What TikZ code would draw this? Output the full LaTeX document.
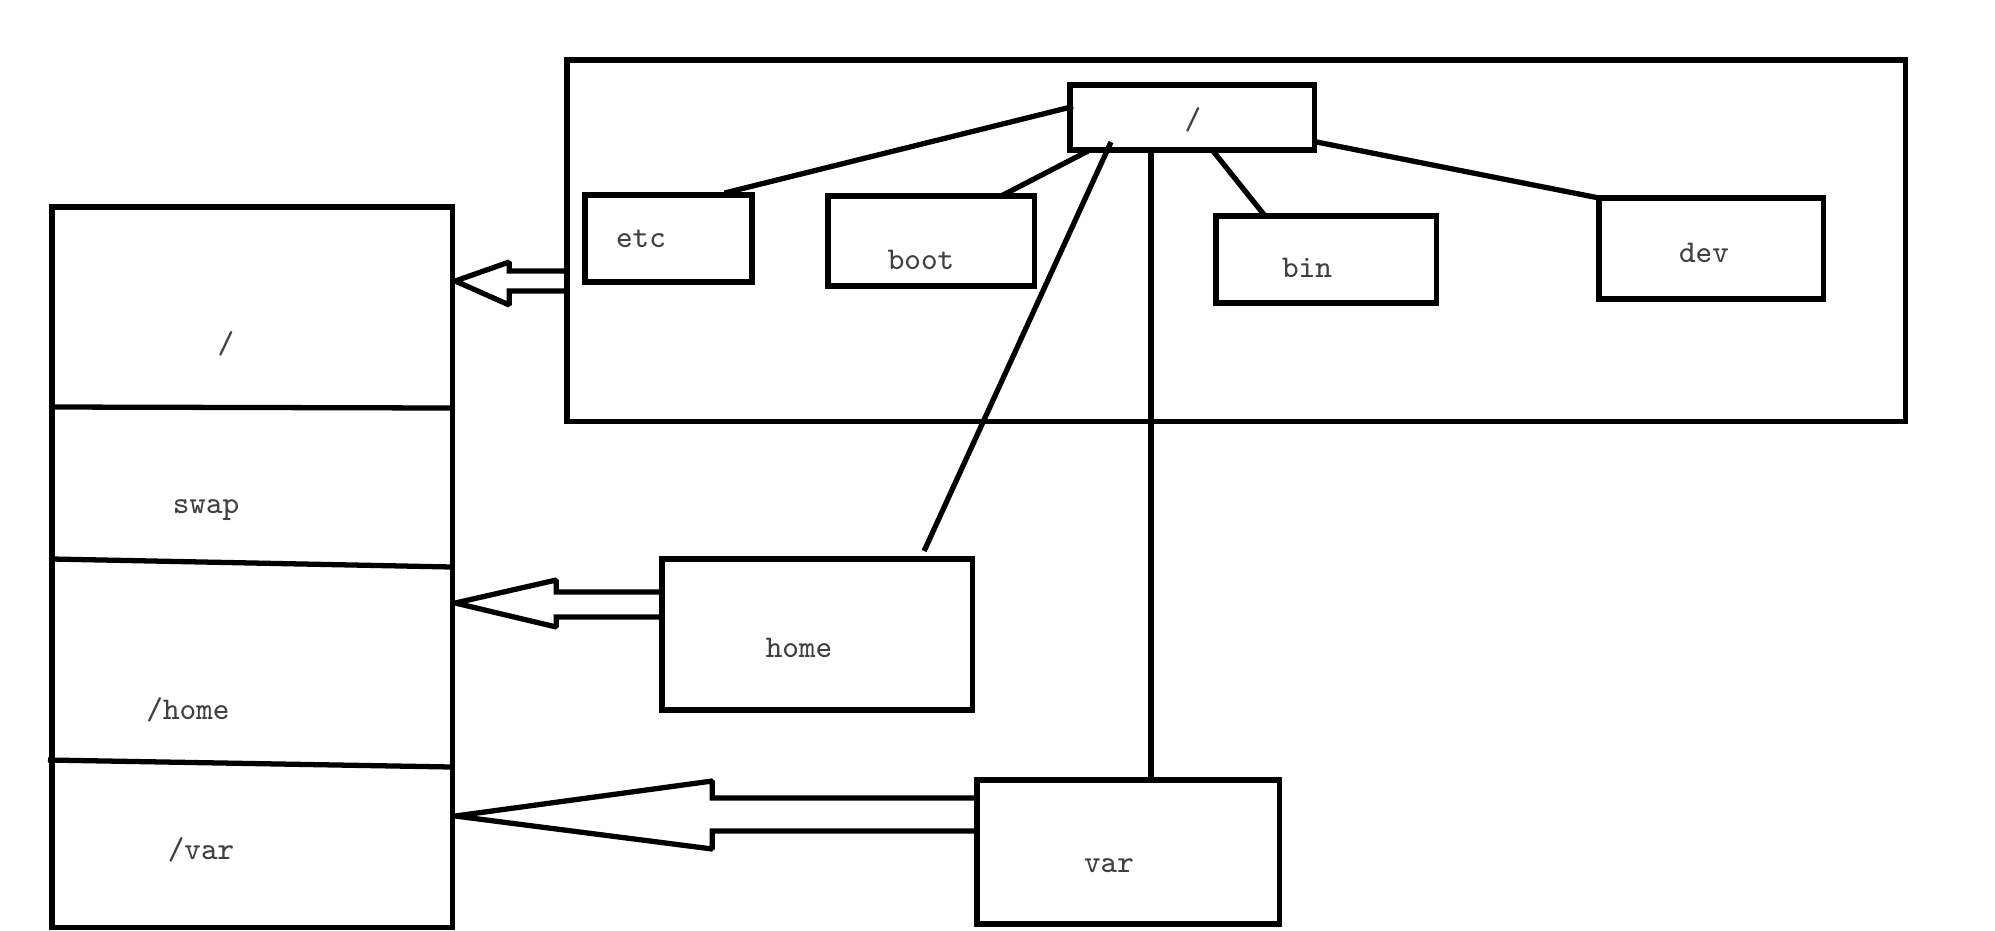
\documentclass[tikz,border=0pt]{standalone}
\usepackage{tikz}
\usetikzlibrary{positioning}

\begin{document}
\begin{tikzpicture}[x=0.01cm,y=-0.01cm,
   box/.style={draw,line width=1.5pt,inner sep=0pt,outer sep=0pt,anchor=north west},
   txt/.style={text=black!75,font=\ttfamily\fontsize{9}{10}\selectfont,inner sep=0pt},
   ln/.style={line width=1.5pt},
   blk/.style={draw,line width=1.5pt,line join=miter,miter limit=1.5}]
   \useasboundingbox (0,0) rectangle (1995,930);
   % disk with its partitions
   \node[box,minimum width=4cm,minimum height=7.2cm] (disk) at (52,207) {};
   \draw[ln] ([shift={(0,200)}]disk.north west) -- ([shift={(0,201)}]disk.north east);
   \draw[ln] ([shift={(0,352)}]disk.north west) -- ([shift={(0,360)}]disk.north east);
   \draw[ln] ([shift={(-4,553)}]disk.north west) -- ([shift={(0,560)}]disk.north east);
   \node[txt] (p_root) at (226,344) {/};
   \node[txt] (p_swap) at (206,510) {swap};
   \node[txt] (p_home) at (188,710) {/home};
   \node[txt] (p_var)  at (201,850) {/var};
   % directory tree
   \node[box,minimum width=13.38cm,minimum height=3.61cm] (fs) at (567,60) {};
   \node[box,minimum width=2.44cm,minimum height=0.65cm] (root) at (1070,85) {};
   \node[box,minimum width=1.67cm,minimum height=0.87cm] (etc)  at (585,195) {};
   \node[box,minimum width=2.06cm,minimum height=0.90cm] (boot) at (828,196) {};
   \node[box,minimum width=2.20cm,minimum height=0.87cm] (bin)  at (1216,216) {};
   \node[box,minimum width=2.24cm,minimum height=1.01cm] (dev)  at (1599,198) {};
   \node[box,minimum width=3.10cm,minimum height=1.51cm] (home) at (662,559) {};
   \node[box,minimum width=3.02cm,minimum height=1.44cm] (var)  at (977,780) {};
   \node[txt] (t_root) at (1193,120) {/};
   \node[txt] (t_etc)  at (641,239) {etc};
   \node[txt] (t_boot) at (921,260) {boot};
   \node[txt] (t_bin)  at (1307,268) {bin};
   \node[txt] (t_dev)  at (1704,253) {dev};
   \node[txt] (t_home) at (799,648) {home};
   \node[txt] (t_var)  at (1109,866) {var};
   \coordinate (rv) at ([shift={(81,0)}]root.south west);
   \draw[ln] ([shift={(3,-11)}]root.west) -- ([shift={(56,-2)}]etc.north);
   \draw[ln] ([shift={(18,1)}]root.south west) -- ([shift={(70,0)}]boot.north);
   \draw[ln] ([shift={(41,-8)}]root.south west) -- ([shift={(107,-8)}]home.north);
   \draw[ln] (rv) -- (rv |- var.north);
   \draw[ln] ([shift={(21,1)}]root.south) -- ([shift={(-61,0)}]bin.north);
   \draw[ln] ([shift={(0,24)}]root.east) -- (dev.north west);
   % mount arrows
   \draw[blk] ([shift={(3,74)}]disk.north east) -- ++(54,-19) -- ++(0,9) -- ++(58,0)
      -- ++(0,20) -- ++(-58,0) -- ++(0,14) -- cycle;
   \draw[blk] ([shift={(3,396)}]disk.north east) -- ++(101,-23) -- ++(0,12) -- ++(106,0)
      -- ++(0,25) -- ++(-106,0) -- ++(0,10) -- cycle;
   \draw[blk] ([shift={(3,609)}]disk.north east) -- ++(257,-35) -- ++(0,17) -- ++(265,0)
      -- ++(0,33) -- ++(-265,0) -- ++(0,18) -- cycle;
\end{tikzpicture}
\end{document}
